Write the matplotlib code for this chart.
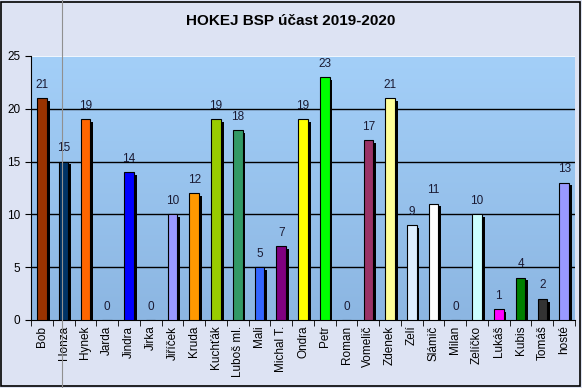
import numpy as np
import matplotlib
matplotlib.use("Agg")
import matplotlib.pyplot as plt
from matplotlib.colors import LinearSegmentedColormap
from matplotlib.patches import Rectangle

players = ["Bob", "Honza", "Hynek", "Jarda", "Jindra", "Jirka", "Jiříček", "Kruda",
           "Kuchťák", "Luboš ml.", "Mali", "Michal T.", "Ondra", "Petr", "Roman",
           "Vomelič", "Zdenek", "Zelí", "Slámič", "Milan", "Zelíčko", "Lukáš",
           "Kubis", "Tomáš", "hosté"]
attendance = [21, 15, 19, 0, 14, 0, 10, 12, 19, 18, 5, 7, 19, 23, 0, 17, 21, 9, 11,
              0, 10, 1, 4, 2, 13]
bar_colors = ["#993300", "#003366", "#ff6600", "#c0c0c0", "#0000ff", "#c0c0c0",
              "#9999ff", "#ff9900", "#99cc00", "#339966", "#3366ff", "#800080",
              "#ffff00", "#00ff00", "#c0c0c0", "#993366", "#ffff99", "#ddeeff",
              "#ffffff", "#c0c0c0", "#ccffff", "#ff00ff", "#008000", "#333333",
              "#9999ff"]
yticks = [0, 5, 10, 15, 20, 25]

plt.rcParams['font.family'] = ['Liberation Sans', 'DejaVu Sans']

fig = plt.figure(figsize=(5.82, 3.88), dpi=100)
fig.patch.set_facecolor("#dde3f3")
ax = fig.add_axes([0.0533, 0.1753, 0.9347, 0.6804])

x = np.arange(len(players))
w = 0.44

# gradient plot area
grad = LinearSegmentedColormap.from_list("bg", ["#8cb6e2", "#a3cff8"])
ax.imshow(np.linspace(0, 1, 100).reshape(-1, 1), cmap=grad, aspect="auto",
          extent=[-0.5, len(players) - 0.5, 0, 25], origin="lower", zorder=0)

for v in yticks[1:-1]:
    ax.axhline(v, color="black", lw=1, zorder=1)
ax.axhline(25, color="white", lw=1.2, zorder=1)

# shadow then bars
ax.bar(x + 0.13, [max(v - 0.25, 0) for v in attendance], w, color="black", zorder=2)
ax.bar(x, attendance, w, color=bar_colors, edgecolor="black", linewidth=0.8, zorder=3)

for xi, v in zip(x, attendance):
    ax.text(xi, v + 0.7, str(v), ha="center", va="bottom", fontsize=8.5,
            color="#1a1a33", zorder=4)

ax.set_xlim(-0.5, len(players) - 0.5)
ax.set_ylim(0, 25)
ax.set_yticks(yticks)
ax.set_xticks(x)
ax.set_xticklabels(players, rotation=90, fontsize=8.5)
ax.tick_params(axis="x", length=0, pad=4)
ax.set_xticks(np.arange(-0.5, len(players), 1), minor=True)
ax.tick_params(axis="x", which="minor", length=4, direction="out")
ax.tick_params(axis="y", labelsize=8.5, length=4, direction="out")

for s in ["top", "right"]:
    ax.spines[s].set_visible(False)
ax.spines["left"].set_color("black")
ax.spines["bottom"].set_color("black")

fig.text(0.5, 0.945, "HOKEJ BSP účast 2019-2020", ha="center", va="center",
         fontsize=11, fontweight="bold")

# outer frame and stray vertical line
fig.patches.append(Rectangle((0.002, 0.004), 0.995, 0.992, transform=fig.transFigure,
                             fill=False, edgecolor="black", lw=1.2))
fig.lines.append(plt.Line2D([62 / 582, 62 / 582], [0.0, 1.0], transform=fig.transFigure,
                            color="#909090", lw=0.8))

fig.savefig("out.png", dpi=100, facecolor=fig.get_facecolor())
